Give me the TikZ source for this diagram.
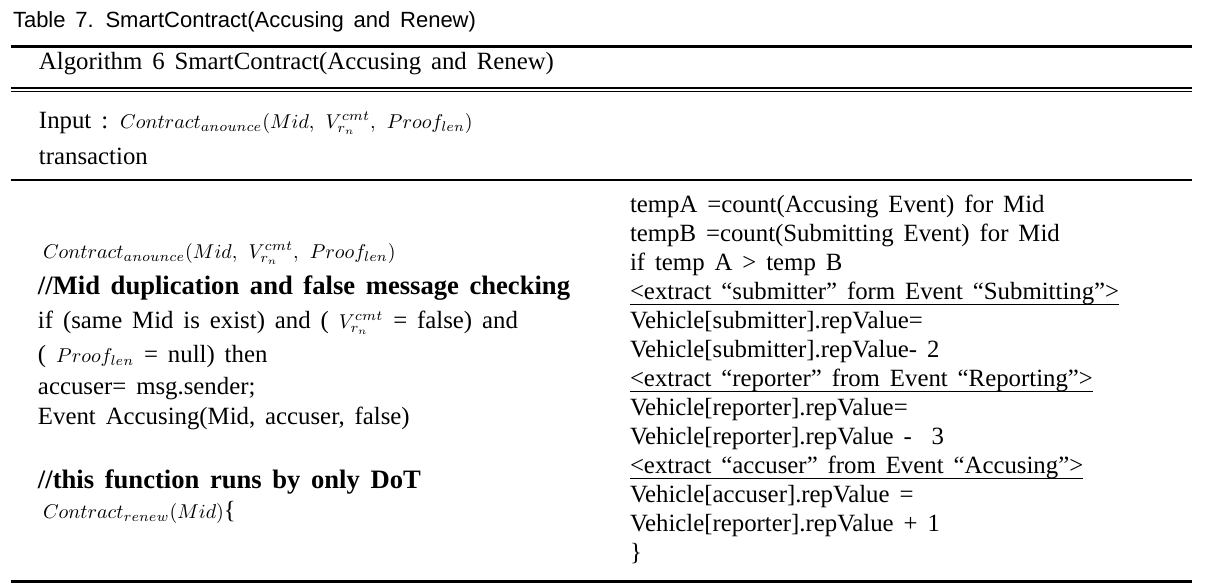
\documentclass[tikz,border=0pt]{standalone}
\usepackage{fontspec}
\setmainfont{Liberation Serif}[WordSpace=1.6]
\newfontfamily\capfont{Liberation Sans}[WordSpace=1.6]
\newcommand\mth[1]{{\fontsize{9.8}{11}\selectfont$#1$}}
\begin{document}
\begin{tikzpicture}[x=0.5pt,y=-0.5pt,
  txt/.style={anchor=base west,inner sep=0pt,outer sep=0pt,font=\fontsize{12.4}{14}\selectfont},
  boldtxt/.style={anchor=base west,inner sep=0pt,outer sep=0pt,font=\fontsize{13.3}{15}\selectfont\bfseries},
  captxt/.style={anchor=base west,inner sep=0pt,outer sep=0pt,font=\capfont\fontsize{11}{13}\selectfont},
  heavyrule/.style={line width=1.5pt},
  lightrule/.style={line width=0.6pt},
  ulinestyle/.style={line width=0.5pt}]
\useasboundingbox (0,0) rectangle (1211,585);
% caption
\node[captxt] (cap) at (13,27) {Table 7. SmartContract(Accusing and Renew)};
% rules
\coordinate (r1a) at (10.5,46); \coordinate (r1b) at (1192,46);
\coordinate (r2a) at (10.5,88); \coordinate (r2b) at (1192,88);
\coordinate (r3a) at (10.5,91.5); \coordinate (r3b) at (1192,91.5);
\coordinate (r4a) at (10.5,180); \coordinate (r4b) at (1192,180);
\coordinate (r5a) at (10.5,581); \coordinate (r5b) at (1192,581);
\draw[heavyrule] (r1a) -- (r1b);
\draw[lightrule] (r2a) -- (r2b);
\draw[lightrule] (r3a) -- (r3b);
\draw[lightrule] (r4a) -- (r4b);
\draw[heavyrule] (r5a) -- (r5b);
% header
\node[txt] (alg) at (39,69) {Algorithm 6 SmartContract(Accusing and Renew)};
\node[txt] (inp) at (39,128) {Input : \mth{Contract_{anounce}(Mid,\ V_{r_n}^{cmt},\ Proof_{len})}};
\node[txt] (trn) at (39,164) {transaction};
% left column
\node[txt] (l1) at (43,258) {\mth{Contract_{anounce}(Mid,\ V_{r_n}^{cmt},\ Proof_{len})}};
\node[boldtxt] (l2) at (38,294) {//Mid duplication and false message checking};
\node[txt] (l3) at (38,328) {if (same Mid is exist) and ( \mth{V_{r_n}^{cmt}} = false) and};
\node[txt] (l4) at (38,362) {( \mth{Proof_{len}} = null) then};
\node[txt] (l5) at (38,394) {accuser= msg.sender;};
\node[txt] (l6) at (38,424) {Event Accusing(Mid, accuser, false)};
\node[boldtxt] (l7) at (38,488) {//this function runs by only DoT};
\node[txt] (l8) at (43,518) {\mth{Contract_{renew}(Mid)}\{};
% right column
\node[txt] (q1) at (630,212) {tempA =count(Accusing Event) for Mid};
\node[txt] (q2) at (630,241) {tempB =count(Submitting Event) for Mid};
\node[txt] (q3) at (630,270) {if temp A > temp B};
\node[txt] (q4) at (630,299) {<extract “submitter” form Event “Submitting”>};
\node[txt] (q5) at (630,328) {Vehicle[submitter].repValue=};
\node[txt] (q6) at (630,357) {Vehicle[submitter].repValue- 2};
\node[txt] (q7) at (630,386) {<extract “reporter” from Event “Reporting”>};
\node[txt] (q8) at (630,415) {Vehicle[reporter].repValue=};
\node[txt] (q9) at (630,444) {Vehicle[reporter].repValue -\ \ 3};
\node[txt] (q10) at (630,473) {<extract “accuser” from Event “Accusing”>\ };
\node[txt] (q11) at (630,502) {Vehicle[accuser].repValue =};
\node[txt] (q12) at (630,531) {Vehicle[reporter].repValue + 1};
\node[txt] (q13) at (630,560) {\}};
% underlines
\draw[ulinestyle] ([yshift=-2.5pt]q4.base west) -- ([yshift=-2.5pt]q4.base east);
\draw[ulinestyle] ([yshift=-2.5pt]q7.base west) -- ([yshift=-2.5pt]q7.base east);
\draw[ulinestyle] ([yshift=-2.5pt]q10.base west) -- ([yshift=-2.5pt]q10.base east);
\end{tikzpicture}
\end{document}
